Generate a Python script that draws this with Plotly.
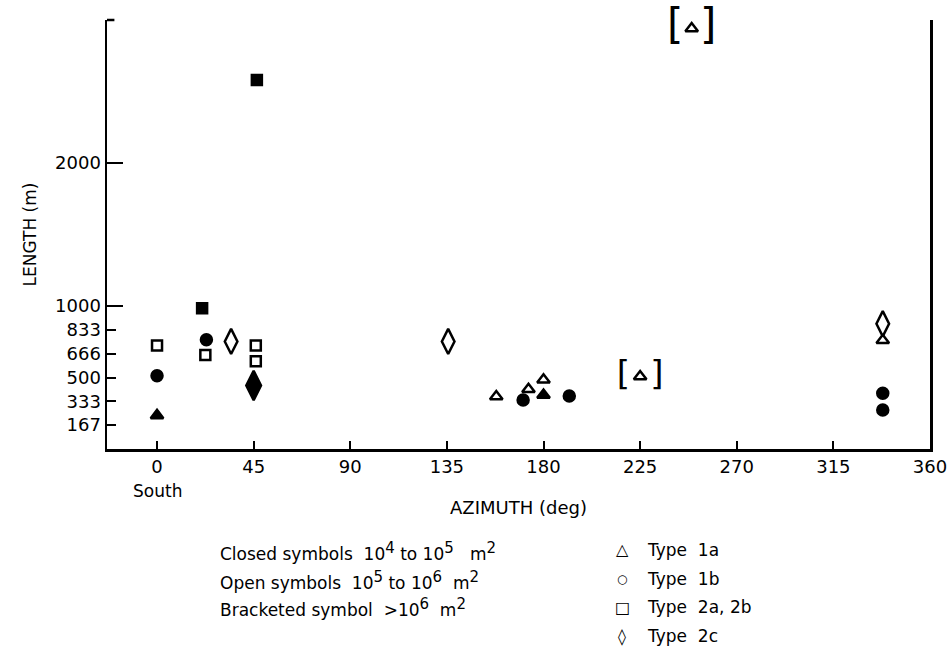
import plotly.graph_objects as go

# ---- data (azimuth deg, length m) ----
tri_x = [0, 158, 173, 180, 180, 225, 249, 338]
tri_y = [235, 367, 418, 484, 378, 507, 2940, 760]
tri_closed = [True, False, False, False, True, False, False, False]

circ_x = [0, 23, 170.5, 192, 338, 338]
circ_y = [512, 764, 343, 371, 390, 273]
circ_closed = [True, True, True, True, True, True]

sq_x = [21, 46.5, 0, 22.5, 46, 46]
sq_y = [985, 2580, 724, 657, 724, 614]
sq_closed = [True, True, False, False, False, False]

dia_x = [34.5, 45, 135.6, 338]
dia_y = [752, 444, 752, 876]
dia_closed = [False, True, False, False]

bracket_x = [225, 249]
bracket_y = [507, 2940]

x_ticks = [0, 45, 90, 135, 180, 225, 270, 315, 360]
y_tickvals = [166.7, 333.3, 500, 666.7, 833.3, 1000, 2000]
y_ticktext = ["167", "333", "500", "666", "833", "1000", "2000"]
y_major = [1000, 2000]

FONT = "DejaVu Sans"
fig = go.Figure()

def add(xs, ys, closed, symbol, size, closed_size=None):
    fig.add_trace(go.Scatter(
        x=xs, y=ys, mode="markers", showlegend=False, cliponaxis=False,
        hoverinfo="skip",
        marker=dict(symbol=symbol, opacity=1,
                    size=[(closed_size or size) if c else size for c in closed],
                    color=["#000000" if c else "#ffffff" for c in closed],
                    line=dict(color="#000000", width=2.5)),
    ))

add(tri_x, tri_y, tri_closed, "triangle-up", 11)
add(circ_x, circ_y, circ_closed, "circle", 11)
add(sq_x, sq_y, sq_closed, "square", 10)
add(dia_x, dia_y, dia_closed, "diamond-tall", 18, 21)

fig.add_trace(go.Scatter(
    x=bracket_x, y=bracket_y, mode="text", showlegend=False, cliponaxis=False,
    hoverinfo="skip",
    text=["[\u2009\u2009\u2009]", "[\u2009\u2009]"],
    textposition="middle center",
    textfont=dict(family=FONT, size=[34, 42], color="black"),
))

fig.add_trace(go.Scatter(x=[None], y=[None], yaxis="y2", showlegend=False))

axis_font = dict(family=FONT, size=18, color="black")
fig.update_layout(
    width=951, height=656,
    margin=dict(l=107, r=21, t=20, b=207, autoexpand=False),
    paper_bgcolor="white", plot_bgcolor="white",
    showlegend=False,
    xaxis=dict(range=[-23.3, 360], tickvals=x_ticks, ticks="inside", ticklen=8,
               tickwidth=2, tickcolor="black", showgrid=False, zeroline=False,
               showline=True, linecolor="black", linewidth=2.5, automargin=False,
               tickfont=axis_font,
               title=dict(text="AZIMUTH (deg)", font=dict(family=FONT, size=18, color="black"),
                          standoff=26)),
    yaxis=dict(range=[0, 3000], tickvals=y_tickvals, ticktext=y_ticktext,
               ticks="inside", ticklen=9, tickwidth=2, tickcolor="black",
               showgrid=False, zeroline=False, showline=True, mirror=True,
               linecolor="black", linewidth=2.5, tickfont=axis_font, automargin=False,
               title=dict(text="LENGTH (m)", font=dict(family=FONT, size=17, color="black"),
                          standoff=14)),
    yaxis2=dict(range=[0, 3000], overlaying="y", side="left", tickvals=y_major,
                ticks="inside", ticklen=16, tickwidth=2, tickcolor="black", automargin=False,
                showticklabels=False, showgrid=False, zeroline=False, showline=False),
)

fig.add_shape(type="line", xref="paper", yref="paper", x0=0, x1=0.009, y0=1, y1=1,
              line=dict(color="black", width=2.5))

fig.add_annotation(text="South", xref="x", yref="paper", x=0, y=-0.098,
                   showarrow=False, font=dict(family=FONT, size=17, color="black"),
                   yanchor="middle")

SUP = '<sup><span style="font-size:15px">{}</span></sup>'
left_lines = [
    "Closed symbols  10" + SUP.format("4") + " to 10" + SUP.format("5") + "   m" + SUP.format("2"),
    "Open symbols  10" + SUP.format("5") + " to 10" + SUP.format("6") + "  m" + SUP.format("2"),
    "Bracketed symbol  >10" + SUP.format("6") + "  m" + SUP.format("2"),
]
left_y = [-0.2378, -0.3054, -0.3706]
for t, y in zip(left_lines, left_y):
    fig.add_annotation(text=t, xref="paper", yref="paper", x=0.1349, y=y,
                       xanchor="left", yanchor="middle", showarrow=False,
                       font=dict(family=FONT, size=17, color="black"))

leg_sym = ["\u25b3", "\u25cb", "\u25a1", "\u25ca"]
leg_sym_size = [16, 12, 16, 16]
leg_txt = ["Type  1a", "Type  1b", "Type  2a, 2b", "Type  2c"]
leg_y = [-0.2354, -0.3030, -0.3683, -0.4359]
for s, ss, t, y in zip(leg_sym, leg_sym_size, leg_txt, leg_y):
    fig.add_annotation(text="<b>" + s + "</b>", xref="paper", yref="paper", x=0.6258, y=y,
                       xanchor="center", yanchor="middle", showarrow=False,
                       font=dict(family=FONT, size=ss, color="black"))
    fig.add_annotation(text=t, xref="paper", yref="paper", x=0.6537, y=y,
                       xanchor="left", yanchor="middle", showarrow=False,
                       font=dict(family=FONT, size=17, color="black"))

fig.write_html("out.html", config={"staticPlot": True, "displayModeBar": False},
               post_script="document.body.style.margin='0';document.body.style.overflow='hidden';")
